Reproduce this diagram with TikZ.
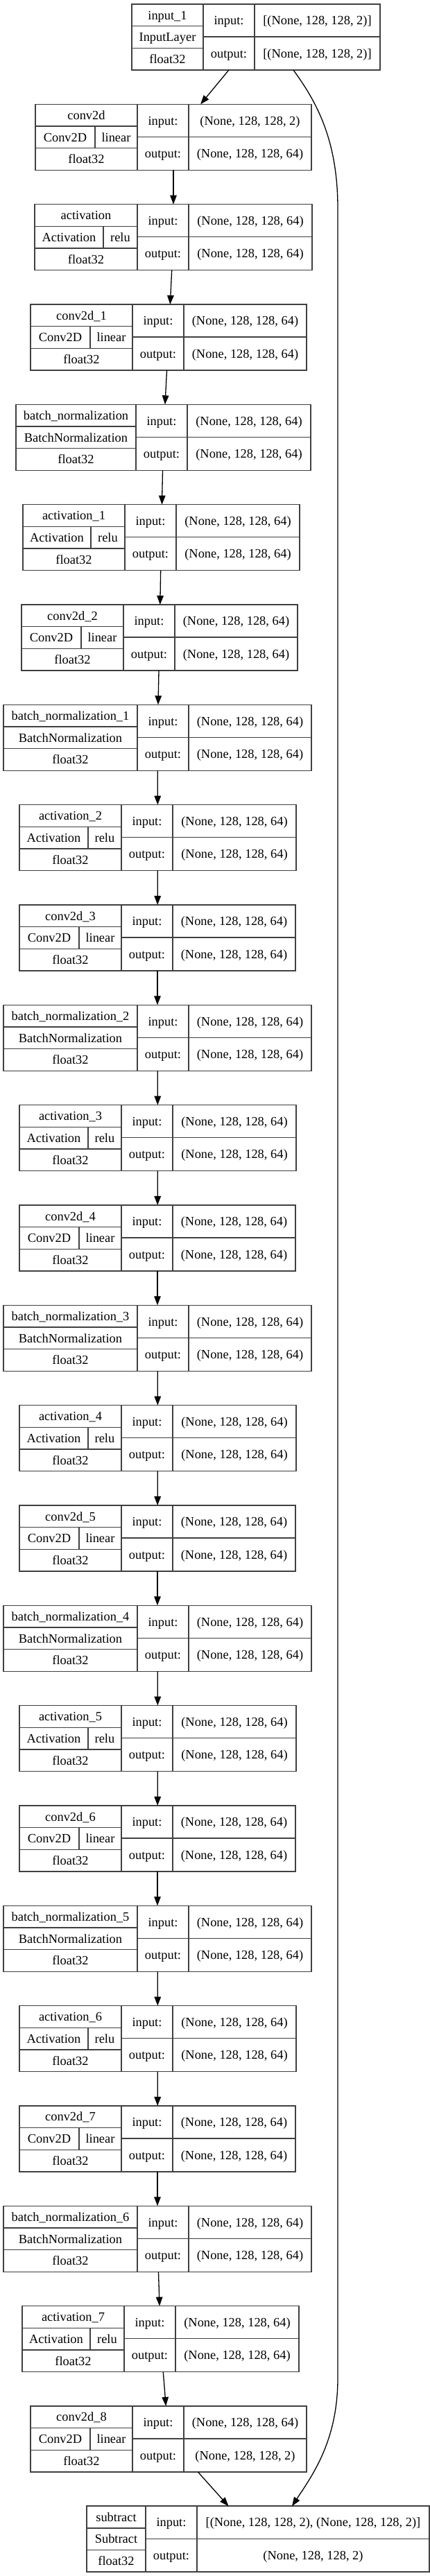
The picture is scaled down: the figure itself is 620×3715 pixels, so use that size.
\documentclass[tikz,border=0pt]{standalone}
\usepackage{fontspec}
\setmainfont{Liberation Serif}
\usetikzlibrary{arrows.meta,calc}

\tikzset{
  boxframe/.style={draw=black!75, line width=1.6pt, inner sep=0pt, outer sep=0pt, rectangle},
  cell/.style={draw=black!75, line width=1.3pt},
  txt/.style={anchor=base, inner sep=0pt, outer sep=0pt, font=\fontsize{18.4}{20}\selectfont},
  edge/.style={draw=black, line width=1.3pt, -{Triangle[length=13pt,width=9.5pt]}},
}

\newcommand\setcols[4]{\def\wa{#1}\def\wb{#2}\def\wc{#3}\def\dv{#4}}
% #1 name, #2 left x, #3 row index, #4 title, #5 class, #6 activation, #7 input shape, #8 output shape
\newcommand\layer[8]{%
  \pgfmathsetmacro\ty{-(6+144.33*#3)}%
  \pgfmathsetmacro\xl{#2}%
  \pgfmathsetmacro\xa{#2+\wa}%
  \pgfmathsetmacro\xb{\xa+\wb}%
  \pgfmathsetmacro\xr{\xb+\wc}%
  \pgfmathsetmacro\W{\wa+\wb+\wc}%
  \pgfmathsetmacro\ra{\ty-31.667}%
  \pgfmathsetmacro\rb{\ty-63.333}%
  \pgfmathsetmacro\rs{\ty-47}%
  \pgfmathsetmacro\yb{\ty-95}%
  \draw[cell] (\xa,\ty) -- (\xa,\yb) (\xb,\ty) -- (\xb,\yb)
              (\xl,\ra) -- (\xa,\ra) (\xl,\rb) -- (\xa,\rb) (\xa,\rs) -- (\xr,\rs);
  \node[boxframe, minimum width=\W pt, minimum height=95pt, anchor=north west] (#1) at (\xl,\ty) {};
  \node[txt] (#1-t) at ({(\xl+\xa)/2},\ty-22.03) {#4};
  \if\relax\detokenize{#6}\relax
    \node[txt] (#1-c) at ({(\xl+\xa)/2},\ty-53.7) {#5};
  \else
    \draw[cell] (\xl+\dv,\ra) -- (\xl+\dv,\rb);
    \node[txt] (#1-c) at ({\xl+\dv/2},\ty-53.7) {#5};
    \node[txt] (#1-a) at ({(\xl+\dv+\xa)/2},\ty-53.7) {#6};
  \fi
  \node[txt] (#1-d) at ({(\xl+\xa)/2},\ty-85.37) {float32};
  \node[txt] (#1-il) at ({(\xa+\xb)/2},\ty-29.7) {input:};
  \node[txt] (#1-ol) at ({(\xa+\xb)/2},\ty-77.2) {output:};
  \node[txt] (#1-iv) at ({(\xb+\xr)/2},\ty-29.7) {#7};
  \node[txt] (#1-ov) at ({(\xb+\xr)/2},\ty-77.2) {#8};
}

\begin{document}
\begin{tikzpicture}[x=1pt,y=1pt]
\fill[white] (0,0) rectangle (620,-3715);
\useasboundingbox (0,0) rectangle (620,-3715);

\def\sf{(None, 128, 128, 64)}
\def\st{(None, 128, 128, 2)}

\setcols{103}{74}{181}{0}
\layer{L0}{190}{0}{input\_1}{InputLayer}{}{[(None, 128, 128, 2)]}{[(None, 128, 128, 2)]}
\setcols{147}{74}{177}{86}
\layer{L1}{51}{1}{conv2d}{Conv2D}{linear}{\st}{\sf}
\setcols{148}{74}{178}{99}
\layer{L2}{50}{2}{activation}{Activation}{relu}{\sf}{\sf}
\setcols{147}{74}{177}{86}
\layer{L3}{44}{3}{conv2d\_1}{Conv2D}{linear}{\sf}{\sf}
\setcols{173}{74}{178}{0}
\layer{L4}{23}{4}{batch\_normalization}{BatchNormalization}{}{\sf}{\sf}
\setcols{147}{74}{178}{98}
\layer{L5}{33}{5}{activation\_1}{Activation}{relu}{\sf}{\sf}
\setcols{147}{74}{177}{86}
\layer{L6}{31}{6}{conv2d\_2}{Conv2D}{linear}{\sf}{\sf}
\setcols{193}{74}{177}{0}
\layer{L7}{5}{7}{batch\_normalization\_1}{BatchNormalization}{}{\sf}{\sf}
\setcols{147}{74}{178}{99}
\layer{L8}{28}{8}{activation\_2}{Activation}{relu}{\sf}{\sf}
\setcols{147}{74}{177}{86}
\layer{L9}{28}{9}{conv2d\_3}{Conv2D}{linear}{\sf}{\sf}
\setcols{193}{74}{177}{0}
\layer{L10}{5}{10}{batch\_normalization\_2}{BatchNormalization}{}{\sf}{\sf}
\setcols{147}{74}{178}{99}
\layer{L11}{28}{11}{activation\_3}{Activation}{relu}{\sf}{\sf}
\setcols{147}{74}{177}{86}
\layer{L12}{28}{12}{conv2d\_4}{Conv2D}{linear}{\sf}{\sf}
\setcols{193}{74}{177}{0}
\layer{L13}{5}{13}{batch\_normalization\_3}{BatchNormalization}{}{\sf}{\sf}
\setcols{147}{74}{178}{99}
\layer{L14}{28}{14}{activation\_4}{Activation}{relu}{\sf}{\sf}
\setcols{147}{74}{177}{86}
\layer{L15}{28}{15}{conv2d\_5}{Conv2D}{linear}{\sf}{\sf}
\setcols{193}{74}{177}{0}
\layer{L16}{5}{16}{batch\_normalization\_4}{BatchNormalization}{}{\sf}{\sf}
\setcols{147}{74}{178}{99}
\layer{L17}{28}{17}{activation\_5}{Activation}{relu}{\sf}{\sf}
\setcols{147}{74}{177}{86}
\layer{L18}{28}{18}{conv2d\_6}{Conv2D}{linear}{\sf}{\sf}
\setcols{193}{74}{177}{0}
\layer{L19}{5}{19}{batch\_normalization\_5}{BatchNormalization}{}{\sf}{\sf}
\setcols{147}{74}{178}{99}
\layer{L20}{28}{20}{activation\_6}{Activation}{relu}{\sf}{\sf}
\setcols{147}{74}{177}{86}
\layer{L21}{28}{21}{conv2d\_7}{Conv2D}{linear}{\sf}{\sf}
\setcols{193}{74}{177}{0}
\layer{L22}{5}{22}{batch\_normalization\_6}{BatchNormalization}{}{\sf}{\sf}
\setcols{147}{74}{178}{98}
\layer{L23}{32}{23}{activation\_7}{Activation}{relu}{\sf}{\sf}
\setcols{147}{74}{177}{86}
\layer{L24}{44}{24}{conv2d\_8}{Conv2D}{linear}{\sf}{\st}
\setcols{85}{74}{335}{0}
\layer{L25}{125}{25}{subtract}{Subtract}{}{[(None, 128, 128, 2), (None, 128, 128, 2)]}{\st}

\foreach \i [evaluate=\i as \j using int(\i+1)] in {0,...,24} {
  \draw[edge] (L\i) -- (L\j);
}

\coordinate (skipS) at ($(L0.south west)+(233,0)$);
\coordinate (skipE) at ($(L25.north west)+(296,0)$);
\draw[edge] (skipS) .. controls +(32,-44) and +(0,100) .. (487,-300)
  -- (487,-3430) .. controls +(0,-90) and +(29,44) .. (skipE);
\end{tikzpicture}
\end{document}
